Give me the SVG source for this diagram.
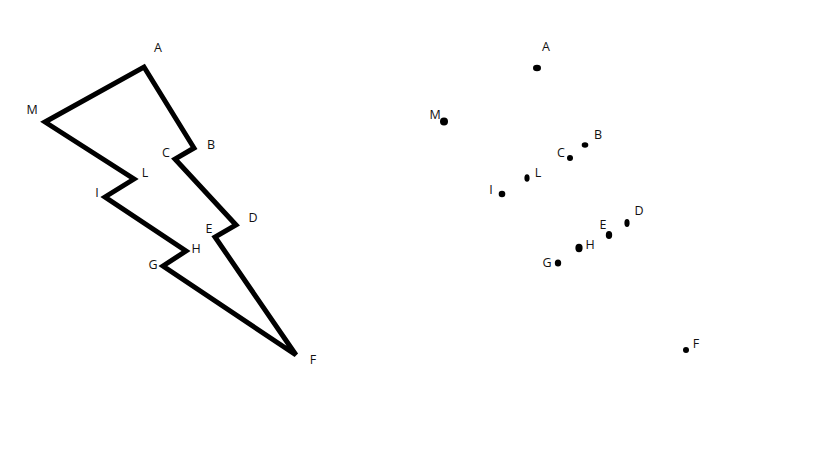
<svg xmlns="http://www.w3.org/2000/svg" width="819" height="460" viewBox="0 0 819 460">
<style>
.lbl{font-family:"Open Sans","Noto Sans","Liberation Sans",sans-serif;font-size:12.5px;fill:#111;text-anchor:middle}
.dot{fill:#000}
</style>
<rect width="819" height="460" fill="#fff"/>
<g id="connectors">
<polygon id="bolt" points="144,67 194,148 175,159 236,225 215,237 296,355 163,266 186,251 105,197 134,179 45,122" fill="none" stroke="#000" stroke-width="5" stroke-linejoin="miter"/>
</g>
<g id="left-labels">
<g id="L-A"><text class="lbl" x="158" y="52">A</text></g>
<g id="L-M"><text class="lbl" x="32" y="114">M</text></g>
<g id="L-B"><text class="lbl" x="211" y="149">B</text></g>
<g id="L-C"><text class="lbl" x="166" y="157">C</text></g>
<g id="L-L"><text class="lbl" x="145" y="177">L</text></g>
<g id="L-I"><text class="lbl" x="97" y="197">I</text></g>
<g id="L-D"><text class="lbl" x="253" y="222">D</text></g>
<g id="L-E"><text class="lbl" x="209" y="233">E</text></g>
<g id="L-H"><text class="lbl" x="196" y="253">H</text></g>
<g id="L-G"><text class="lbl" x="153" y="269">G</text></g>
<g id="L-F"><text class="lbl" x="313" y="364">F</text></g>
</g>
<g id="right-points">
<g id="R-A"><ellipse class="dot" cx="537" cy="68" rx="4" ry="3.2"/><text class="lbl" x="546" y="51">A</text></g>
<g id="R-M"><ellipse class="dot" cx="444" cy="121.5" rx="4" ry="4"/><text class="lbl" x="435" y="119">M</text></g>
<g id="R-B"><ellipse class="dot" cx="585" cy="145" rx="3.3" ry="2.8"/><text class="lbl" x="598" y="139">B</text></g>
<g id="R-C"><ellipse class="dot" cx="570" cy="158" rx="3" ry="3"/><text class="lbl" x="561" y="157">C</text></g>
<g id="R-L"><ellipse class="dot" cx="527" cy="178" rx="2.6" ry="3.8"/><text class="lbl" x="538" y="177">L</text></g>
<g id="R-I"><ellipse class="dot" cx="502" cy="194" rx="3.3" ry="3.3"/><text class="lbl" x="491" y="194">I</text></g>
<g id="R-D"><ellipse class="dot" cx="627" cy="223" rx="2.6" ry="4"/><text class="lbl" x="639" y="215">D</text></g>
<g id="R-E"><ellipse class="dot" cx="609" cy="235" rx="3.2" ry="4"/><text class="lbl" x="603" y="229">E</text></g>
<g id="R-H"><ellipse class="dot" cx="579" cy="248" rx="3.6" ry="4.2"/><text class="lbl" x="590" y="249">H</text></g>
<g id="R-G"><ellipse class="dot" cx="558" cy="263" rx="3.2" ry="3.6"/><text class="lbl" x="547" y="267">G</text></g>
<g id="R-F"><ellipse class="dot" cx="686" cy="350" rx="3" ry="3"/><text class="lbl" x="696" y="348">F</text></g>
</g>
</svg>
